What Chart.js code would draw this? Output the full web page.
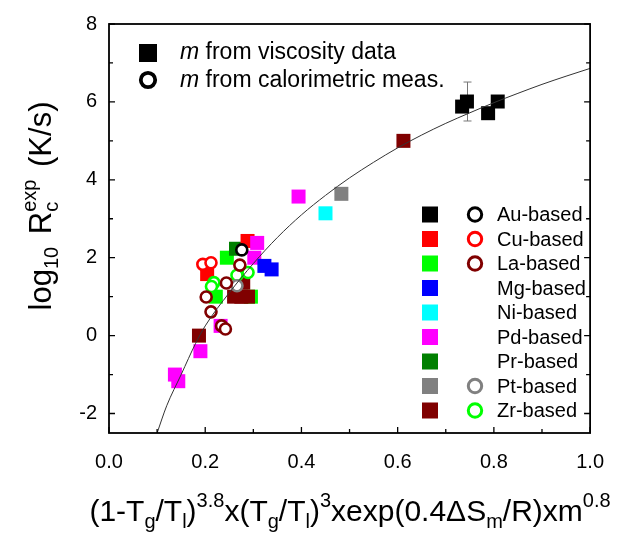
<!DOCTYPE html>
<html>
<head>
<meta charset="utf-8">
<script src="https://cdn.jsdelivr.net/npm/chart.js@4.4.1/dist/chart.umd.min.js"></script>
<style>
  html, body { margin: 0; padding: 0; background: #fff; }
  canvas { display: block; }
</style>
</head>
<body>
<canvas id="rcChart" width="621" height="533"></canvas>
<script>
// [x, log10 Rc] pairs
// squares: m from viscosity data, circles: m from calorimetric measurements
const auVisc = [[0.734, 5.88], [0.744, 6.01], [0.788, 5.71], [0.808, 6.01]];
const auCalo = [[0.276, 2.20]];
const cuVisc = [[0.288, 2.43], [0.204, 1.58]];
const cuCalo = [[0.195, 1.83], [0.212, 1.87]];
const laVisc = [[0.245, 2.00], [0.222, 1.00], [0.295, 1.00]];
const laCalo = [[0.272, 1.81], [0.244, 1.35], [0.202, 0.99], [0.212, 0.61], [0.234, 0.25], [0.242, 0.17]];
const mgVisc = [[0.323, 1.79], [0.338, 1.70]];
const niVisc = [[0.450, 3.14]];
const pdVisc = [[0.394, 3.57], [0.308, 2.38], [0.302, 2.00], [0.232, 0.25], [0.190, -0.40], [0.137, -1.00], [0.144, -1.17]];
const prVisc = [[0.264, 2.23]];
const ptVisc = [[0.483, 3.64]];
const ptCalo = [[0.266, 1.28]];
const zrVisc = [[0.612, 5.00], [0.279, 1.36], [0.260, 1.00], [0.275, 1.00], [0.289, 1.00], [0.187, 0.00]];
const zrCalo = [[0.289, 1.62], [0.266, 1.55], [0.218, 1.36], [0.213, 1.26]];

// fitted curve
const fitX = [0.10, 0.12, 0.15, 0.18, 0.20, 0.25, 0.30, 0.35, 0.40, 0.45, 0.50, 0.55, 0.60, 0.65, 0.70, 0.75, 0.80, 0.85, 0.90, 0.95, 1.00];
const fitY = [-2.50, -1.80, -1.00, -0.20, 0.25, 1.10, 1.85, 2.52, 3.10, 3.60, 4.05, 4.45, 4.82, 5.15, 5.45, 5.72, 5.98, 6.22, 6.45, 6.66, 6.86];

// error bar on one Au point
const errX = [0.744];
const errY = [6.01];
const errD = [0.5];

const xTickVals = [0, 0.2, 0.4, 0.6, 0.8, 1.0];
const xMinorVals = [0.1, 0.3, 0.5, 0.7, 0.9];
const yTickVals = [-2, 0, 2, 4, 6, 8];
const yMinorVals = [-1, 1, 3, 5, 7];

const legendNames = ['Au-based', 'Cu-based', 'La-based', 'Mg-based', 'Ni-based', 'Pd-based', 'Pr-based', 'Pt-based', 'Zr-based'];
const squareColors = ['#000000', '#ff0000', '#00ff00', '#0000ff', '#00ffff', '#ff00ff', '#008000', '#808080', '#800000'];
const circleColors = ['#000000', '#ff0000', '#800000', null, null, null, null, '#808080', '#00ff00'];

const FONT = "'Liberation Sans', Arial, Helvetica, sans-serif";
Chart.defaults.font.family = FONT;
Chart.defaults.color = '#000';

const toPts = arr => arr.map(p => ({ x: p[0], y: p[1] }));

function squares(data, color, order) {
    return {
        type: 'scatter', data: toPts(data), order: order,
        pointStyle: 'rect', pointRadius: 9.9, pointHoverRadius: 9.9,
        backgroundColor: color, borderColor: color, borderWidth: 0
    };
}
function circles(data, color) {
    return {
        type: 'scatter', data: toPts(data), order: 1,
        pointStyle: 'circle', pointRadius: 5.5, pointHoverRadius: 5.5,
        backgroundColor: '#ffffff', borderColor: color, borderWidth: 2.6
    };
}

// draws a list of text runs (normal / sub / sup / stacked sub+sup), centred on 0
function drawRuns(ctx, runs, size, small) {
    const fMain = size + 'px ' + FONT;
    const fSmall = small + 'px ' + FONT;
    const widthOf = r => {
        if (r.k === 'n') { ctx.font = fMain; return ctx.measureText(r.t).width + (r.g || 0); }
        ctx.font = fSmall;
        if (r.k === 'stack') return Math.max(ctx.measureText(r.t).width, ctx.measureText(r.t2).width) + (r.g || 0);
        return ctx.measureText(r.t).width + (r.g || 0);
    };
    const total = runs.reduce((s, r) => s + widthOf(r), 0);
    let x = -total / 2;
    runs.forEach(r => {
        const w = widthOf(r);
        if (r.k === 'n') { ctx.font = fMain; ctx.fillText(r.t, x, 0); }
        else {
            ctx.font = fSmall;
            if (r.k === 'sub') ctx.fillText(r.t, x, 7);
            if (r.k === 'sup') ctx.fillText(r.t, x, -14);
            if (r.k === 'stack') { ctx.fillText(r.t, x, 7); ctx.fillText(r.t2, x, -15); }
        }
        x += w;
    });
}

const decor = {
    id: 'decor',
    beforeDatasetsDraw(chart) {
        const { ctx, scales: { x, y } } = chart;
        ctx.save();
        ctx.strokeStyle = '#777';
        ctx.lineWidth = 1;
        errX.forEach((v, i) => {
            const px = Math.round(x.getPixelForValue(v)) + 0.5;
            const top = y.getPixelForValue(errY[i] + errD[i]);
            const bot = y.getPixelForValue(errY[i] - errD[i]);
            ctx.beginPath();
            ctx.moveTo(px, top); ctx.lineTo(px, bot);
            ctx.moveTo(px - 4, top); ctx.lineTo(px + 4, top);
            ctx.moveTo(px - 4, bot); ctx.lineTo(px + 4, bot);
            ctx.stroke();
        });
        ctx.restore();
    },
    afterDatasetsDraw(chart) {
        const { ctx, chartArea: a, scales: { x, y } } = chart;
        ctx.save();
        // frame
        ctx.strokeStyle = '#000';
        ctx.lineWidth = 1.8;
        ctx.strokeRect(a.left, a.top, a.right - a.left, a.bottom - a.top);
        // inward ticks
        ctx.lineWidth = 1.3;
        ctx.beginPath();
        const xt = (v, len) => { const p = x.getPixelForValue(v); ctx.moveTo(p, a.bottom); ctx.lineTo(p, a.bottom - len); };
        const yt = (v, len) => {
            const p = y.getPixelForValue(v);
            ctx.moveTo(a.left, p); ctx.lineTo(a.left + len, p);
            ctx.moveTo(a.right, p); ctx.lineTo(a.right - len, p);
        };
        xTickVals.forEach(v => xt(v, 6));
        xMinorVals.forEach(v => xt(v, 4));
        yTickVals.forEach(v => yt(v, 6));
        yMinorVals.forEach(v => yt(v, 4));
        ctx.stroke();

        // top-left legend
        ctx.fillStyle = '#000';
        ctx.fillRect(139, 44, 18, 18);
        ctx.beginPath();
        ctx.arc(148, 80, 7.2, 0, Math.PI * 2);
        ctx.fillStyle = '#fff'; ctx.fill();
        ctx.lineWidth = 3.8; ctx.strokeStyle = '#000'; ctx.stroke();
        ctx.fillStyle = '#000';
        ctx.textBaseline = 'middle';
        ctx.textAlign = 'left';
        [['from viscosity data', 53], ['from calorimetric meas.', 81]].forEach(([t, ty]) => {
            ctx.font = 'italic 23px ' + FONT;
            ctx.fillText('m', 180, ty);
            const w = ctx.measureText('m ').width;
            ctx.font = '23px ' + FONT;
            ctx.fillText(t, 180 + w, ty);
        });

        // group legend
        ctx.font = '20px ' + FONT;
        legendNames.forEach((name, i) => {
            const ry = 214.5 + i * 24.5;
            ctx.fillStyle = squareColors[i];
            ctx.fillRect(422, ry - 8, 16, 16);
            if (circleColors[i]) {
                ctx.beginPath();
                ctx.arc(475, ry, 6.7, 0, Math.PI * 2);
                ctx.fillStyle = '#fff'; ctx.fill();
                ctx.lineWidth = 3; ctx.strokeStyle = circleColors[i]; ctx.stroke();
            }
            ctx.fillStyle = '#000';
            ctx.fillText(name, 497, ry + 1);
        });

        // axis titles
        ctx.textBaseline = 'alphabetic';
        ctx.save();
        ctx.translate(350, 521);
        drawRuns(ctx, [
            { k: 'n', t: '(1-T' }, { k: 'sub', t: 'g' }, { k: 'n', t: '/T' }, { k: 'sub', t: 'l' },
            { k: 'n', t: ')' }, { k: 'sup', t: '3.8' }, { k: 'n', t: 'x(T' }, { k: 'sub', t: 'g' },
            { k: 'n', t: '/T' }, { k: 'sub', t: 'l' }, { k: 'n', t: ')' }, { k: 'sup', t: '3' },
            { k: 'n', t: 'xexp(0.4\u0394S' }, { k: 'sub', t: 'm' }, { k: 'n', t: '/R)xm' }, { k: 'sup', t: '0.8' }
        ], 30, 20);
        ctx.restore();
        ctx.save();
        ctx.translate(51, 206);
        ctx.rotate(-Math.PI / 2);
        drawRuns(ctx, [
            { k: 'n', t: 'log' }, { k: 'sub', t: '10', g: 4 }, { k: 'n', t: ' R' },
            { k: 'stack', t: 'c', t2: 'exp', g: 4 }, { k: 'n', t: ' (K/s)' }
        ], 31, 20);
        ctx.restore();
        ctx.restore();
    }
};

new Chart(document.getElementById('rcChart'), {
    data: {
        datasets: [
            {
                type: 'line', data: fitX.map((v, i) => ({ x: v, y: fitY[i] })), order: 0,
                borderColor: '#333', borderWidth: 1, pointRadius: 0, fill: false,
                cubicInterpolationMode: 'monotone'
            },
            circles(auCalo, '#000000'),
            circles(cuCalo, '#ff0000'),
            circles(laCalo, '#800000'),
            circles(ptCalo, '#808080'),
            circles(zrCalo, '#00ff00'),
            squares(auVisc, '#000000', 10),
            squares(mgVisc, '#0000ff', 10),
            squares(niVisc, '#00ffff', 10),
            squares(ptVisc, '#808080', 10),
            squares(pdVisc, '#ff00ff', 11),
            squares(zrVisc, '#800000', 11),
            squares(cuVisc, '#ff0000', 12),
            squares(prVisc, '#008000', 12),
            squares(laVisc, '#00ff00', 13)
        ]
    },
    options: {
        responsive: false,
        animation: false,
        devicePixelRatio: 1,
        layout: { padding: { top: 22, right: 19, left: 0, bottom: 0 } },
        scales: {
            x: {
                type: 'linear', min: 0, max: 1,
                grid: { display: false, drawTicks: false },
                border: { display: false },
                afterBuildTicks: s => { s.ticks = xTickVals.map(v => ({ value: v })); },
                afterFit: s => { s.height = 100; },
                ticks: { font: { size: 20 }, padding: 17, maxRotation: 0, callback: v => v.toFixed(1) }
            },
            y: {
                type: 'linear', min: -2.5, max: 8,
                grid: { display: false, drawTicks: false },
                border: { display: false },
                afterBuildTicks: s => { s.ticks = yTickVals.map(v => ({ value: v })); },
                afterFit: s => { s.width = 109; },
                ticks: { font: { size: 20 }, padding: 12, callback: v => String(v) }
            }
        },
        plugins: {
            legend: { display: false },
            tooltip: { enabled: false }
        }
    },
    plugins: [decor]
});
</script>
</body>
</html>
